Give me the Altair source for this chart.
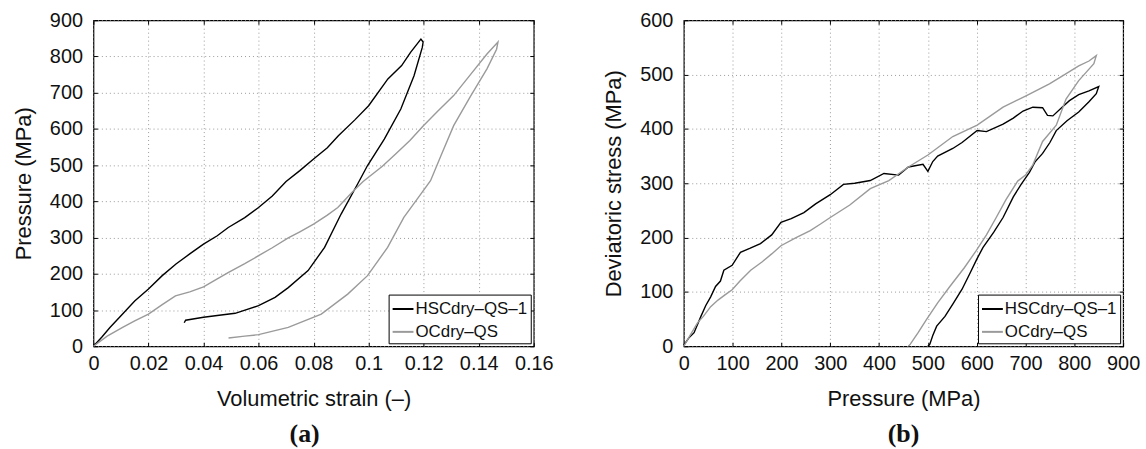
import altair as alt
import pandas as pd

# ---------------- data ----------------
SERIES = ["HSCdry–QS–1", "OCdry–QS"]

# (a) volumetric strain vs pressure
a_hsc_strain = [0, 0.003, 0.006, 0.0106, 0.015, 0.02, 0.025, 0.03, 0.035, 0.04, 0.045, 0.049,
                0.055, 0.06, 0.065, 0.07, 0.075, 0.08, 0.085, 0.089, 0.095, 0.1, 0.107, 0.112,
                0.1153, 0.119, 0.1198, 0.1195, 0.1165, 0.1117, 0.1057, 0.0996, 0.096, 0.09,
                0.084, 0.078, 0.0708, 0.066, 0.06, 0.0515, 0.045, 0.04, 0.0335, 0.033]
a_hsc_pressure = [0, 25, 52, 89, 125, 158, 195, 227, 255, 282, 305, 328,
                  355, 383, 415, 455, 485, 517, 548, 581, 625, 664, 738, 775,
                  812, 848, 840, 825, 747, 655, 572, 499, 448, 365,
                  273, 209, 162, 135, 112, 91, 85, 80, 72, 65]

a_oc_strain = [0, 0.005, 0.0106, 0.015, 0.02, 0.025, 0.0298, 0.035, 0.04, 0.045, 0.0491, 0.055,
               0.06, 0.065, 0.0708, 0.075, 0.08, 0.085, 0.0888, 0.094, 0.098, 0.105, 0.11, 0.115,
               0.1199, 0.125, 0.1309, 0.137, 0.143, 0.147,
               0.1465, 0.143, 0.137, 0.1309, 0.1265, 0.1225, 0.1175, 0.1128, 0.1069, 0.0996,
               0.0924, 0.0828, 0.0708, 0.06, 0.055, 0.0491]
a_oc_pressure = [0, 28, 52, 70, 89, 115, 139, 150, 164, 186, 204, 228,
                 250, 272, 299, 316, 337, 362, 383, 425, 455, 497, 532, 568,
                 609, 648, 692, 750, 807, 840,
                 820, 766, 690, 609, 530, 457, 405, 356, 273, 195,
                 144, 89, 52, 32, 28, 23]

# (b) pressure vs deviatoric stress
b_hsc_pressure = [0, 10, 21, 35, 45, 55, 65, 75, 82, 99, 116, 135, 157, 180, 199, 220, 246,
                  270, 300, 327, 350, 382, 410, 440, 460, 490, 500, 510, 520, 551, 570, 601,
                  620, 654, 675, 695, 715, 735, 745, 756, 775, 790, 809, 830, 850,
                  845, 830, 809, 785, 763, 750, 735, 720, 708, 691, 675, 654, 635, 613,
                  600, 586, 570, 552, 535, 518, 510, 504, 500]
b_hsc_dev = [2, 15, 25, 55, 75, 91, 110, 120, 140, 149, 173, 180, 189, 205, 228, 235, 246,
             262, 279, 298, 300, 305, 318, 315, 330, 335, 322, 340, 350, 364, 375, 397,
             395, 409, 420, 433, 440, 439, 425, 424, 440, 452, 463, 470, 478,
             465, 450, 431, 415, 397, 375, 355, 340, 320, 298, 275, 237, 210, 182,
             160, 134, 105, 79, 55, 37, 20, 4, 0]

b_oc_pressure = [0, 14, 28, 40, 55, 70, 85, 99, 115, 137, 160, 180, 199, 230, 259, 280, 300,
                 340, 382, 420, 460, 500, 551, 601, 654, 701, 749, 780, 809, 830, 845,
                 840, 825, 809, 783, 763, 735, 715, 700, 684, 660, 640, 620, 599, 575, 545,
                 520, 497, 480, 464, 460]
b_oc_dev = [0, 22, 43, 55, 73, 85, 95, 104, 120, 140, 155, 170, 185, 200, 213, 225, 237,
            260, 290, 305, 330, 352, 386, 407, 440, 461, 483, 500, 516, 525, 535,
            520, 505, 489, 455, 407, 377, 334, 315, 304, 270, 237, 205, 176, 145, 110,
            80, 49, 25, 4, 0]

a_x_ticks = [0, 0.02, 0.04, 0.06, 0.08, 0.1, 0.12, 0.14, 0.16]
a_y_ticks = [0, 100, 200, 300, 400, 500, 600, 700, 800, 900]
b_x_ticks = [0, 100, 200, 300, 400, 500, 600, 700, 800, 900]
b_y_ticks = [0, 100, 200, 300, 400, 500, 600]


def frame(xs1, ys1, xs2, ys2):
    rows = []
    for name, xs, ys in ((SERIES[0], xs1, ys1), (SERIES[1], xs2, ys2)):
        for i, (x, y) in enumerate(zip(xs, ys)):
            rows.append({"x": x, "y": y, "series": name, "i": i})
    return pd.DataFrame(rows)


df_a = frame(a_hsc_strain, a_hsc_pressure, a_oc_strain, a_oc_pressure)
df_b = frame(b_hsc_pressure, b_hsc_dev, b_oc_pressure, b_oc_dev)

FONT = "Liberation Sans"
TICK = 4


def panel(df, xtitle, ytitle, xdom, xvals, xfmt, ydom, yvals, caption, w, h, cap_dx):
    xs = alt.Scale(domain=xdom, nice=False, zero=False)
    ys = alt.Scale(domain=ydom, nice=False, zero=False)
    common = dict(labelFont=FONT, labelFontSize=20, labelColor="#111", labelFlush=False,
                  titleFont=FONT, titleFontSize=22, titleFontWeight="normal", titleColor="#111",
                  domain=False, tickColor="#000", tickWidth=1, tickSize=TICK,
                  offset=-TICK, grid=True, gridDash=[1, 3], gridColor="#9a9a9a", gridWidth=1)
    lines = alt.Chart(df).mark_line(strokeWidth=1.4).encode(
        x=alt.X("x:Q", scale=xs, axis=alt.Axis(
            title=xtitle, values=xvals, format=xfmt, orient="bottom",
            labelPadding=7, titlePadding=16, **common)),
        y=alt.Y("y:Q", scale=ys, axis=alt.Axis(
            title=ytitle, values=yvals, format="d", orient="left",
            labelPadding=11, titlePadding=14, **common)),
        color=alt.Color("series:N",
                        scale=alt.Scale(domain=SERIES, range=["#000000", "#9a9a9a"]),
                        legend=alt.Legend(title=None, orient="bottom-right", offset=3,
                                          strokeColor="#000", fillColor="#fff", padding=3,
                                          symbolType="stroke", symbolSize=440,
                                          symbolStrokeWidth=2, labelFont=FONT,
                                          labelFontSize=17, labelColor="#111",
                                          labelOffset=1, rowPadding=3)),
        order="i:Q",
    )
    mirror = alt.Chart(df).mark_line(opacity=0).encode(
        x=alt.X("x:Q", scale=xs, axis=alt.Axis(
            orient="top", values=xvals, labels=False, title=None, grid=False,
            domain=False, tickSize=TICK, offset=-TICK, tickColor="#000")),
        y=alt.Y("y:Q", scale=ys, axis=alt.Axis(
            orient="right", values=yvals, labels=False, title=None, grid=False,
            domain=False, tickSize=TICK, offset=-TICK, tickColor="#000")),
    )
    return alt.layer(lines, mirror).resolve_axis(x="independent", y="independent").properties(
        width=w, height=h,
        title=alt.TitleParams(caption, orient="bottom", font="Liberation Serif",
                              fontSize=26, fontWeight="bold", color="#111",
                              anchor="middle", frame="group", offset=11, dx=cap_dx),
    )


pa = panel(df_a, "Volumetric strain (–)", "Pressure (MPa)", [0, 0.16], a_x_ticks, "~g",
           [0, 900], a_y_ticks, "(a)", 443, 328, -9)
pb = panel(df_b, "Pressure (MPa)", "Deviatoric stress (MPa)", [0, 900], b_x_ticks, "d",
           [0, 600], b_y_ticks, "(b)", 442, 328, 0)

chart = alt.hconcat(pa, pb, spacing=48).resolve_legend(color="independent").properties(
    padding={"left": 12, "top": 8, "right": 5, "bottom": 5},
    background="white",
).configure_view(stroke="#000", strokeWidth=1.2)

chart.save("out.html", embed_options={"renderer": "svg", "actions": False})
